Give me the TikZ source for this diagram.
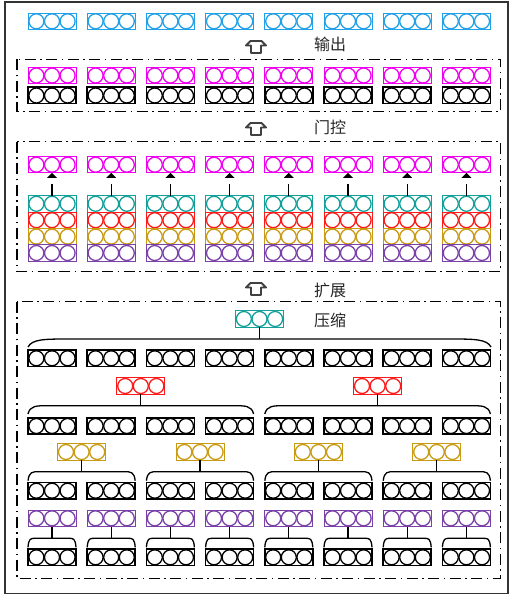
\documentclass[tikz,border=0pt]{standalone}
\usepackage{fontspec}
\newfontfamily\cjk{Noto Sans CJK SC}
\definecolor{cblue}{HTML}{22A0E8}
\definecolor{cmag}{HTML}{F000F0}
\definecolor{cteal}{HTML}{14A09A}
\definecolor{cred}{HTML}{FF1A1A}
\definecolor{cgold}{HTML}{C99A14}
\definecolor{cpurp}{HTML}{7A42A8}
\tikzset{
  cell/.style={draw=#1, line width=0.9pt, minimum width=48pt, minimum height=16.4pt,
    inner sep=0pt, outer sep=0pt,
    path picture={\foreach \dx in {-15.6,0,15.6}{\draw[#1,line width=1.3pt]
      ([xshift=\dx pt]path picture bounding box.center) circle[radius=7.5pt];}}},
  kcell/.style={cell=black, line width=1.6pt},
  dashdot/.style={line width=1.1pt, dash pattern=on 11pt off 4.5pt on 1.5pt off 4.5pt},
  brace/.style={line width=1.3pt, black},
  link/.style={line width=1.3pt, black},
  icon/.style={line width=1.9pt, black!75, line join=round},
  lbl/.style={font=\fontsize{16}{16}\selectfont\cjk, text=black!85, inner sep=0pt},
  frame/.style={line width=1.2pt, black!80}
}
\newcommand\upicon[1]{\draw[icon] (#1) ++(-5.5,-6) -- ++(11,0) -- ++(4.5,4.5) -- ++(-5,0)
  -- ++(0,7.5) -- ++(-10,0) -- ++(0,-7.5) -- ++(-5,0) -- cycle;}
\newcommand\brc[5]{\draw[brace] (#1,#4) .. controls ({#1+0.1*#5},#3) and ({#1+0.4*#5},#3) .. ({#1+#5},#3)
  -- ({#2-#5},#3) .. controls ({#2-0.4*#5},#3) and ({#2-0.1*#5},#3) .. (#2,#4);}
\begin{document}
\begin{tikzpicture}[x=1pt,y=-1pt]
\useasboundingbox (0,0) rectangle (510,596);
\draw[frame] (5,2) rectangle (508,593.5);
% dashed groups
\draw[dashdot] (17,59.3) rectangle (500.7,111.7);
\draw[dashdot] (17,141.7) rectangle (500.7,271.7);
\draw[dashdot] (17,301.7) rectangle (500.7,578.3);
% columns
\foreach \i in {0,...,7}{
  \pgfmathsetmacro\xx{52+59.2*\i}
  \node[cell=cblue] (b\i) at (\xx,21.3) {};
  \node[cell=cmag] (ma\i) at (\xx,75.5) {};
  \node[kcell] (ka\i) at (\xx,95.5) {};
  \node[cell=cmag] (mb\i) at (\xx,164.7) {};
  \node[cell=cteal] (tb\i) at (\xx,203.8) {};
  \node[cell=cred] (rb\i) at (\xx,220.2) {};
  \node[cell=cgold] (gb\i) at (\xx,236.6) {};
  \node[cell=cpurp] (pb\i) at (\xx,253.0) {};
  \draw[link] (tb\i.north) -- ([yshift=-11pt]mb\i.south);
  \fill (mb\i.south) -- ++(5,5) -- ++(-10,0) -- cycle;
  \node[kcell] (k1\i) at (\xx,358.3) {};
  \node[kcell] (k2\i) at (\xx,426) {};
  \node[kcell] (k3\i) at (\xx,490.7) {};
  \node[cell=cpurp] (p\i) at (\xx,518.3) {};
  \node[kcell] (k4\i) at (\xx,557.3) {};
  \coordinate (j3\i) at (\xx,538.3);
  \draw[link] (p\i.south) -- (j3\i);
  \pgfmathsetmacro\xa{\xx-24}\pgfmathsetmacro\xb{\xx+24}
  \brc{\xa}{\xb}{538.3}{547.3}{7}
}
% compression tree
\node[cell=cteal] (tc) at (259.5,319) {};
\coordinate (j0) at (259.5,339);
\draw[link] (tc.south) -- (j0);
\brc{28}{491}{339}{347}{42}
\foreach \g in {0,1}{
  \pgfmathsetmacro\xx{140.8+236.8*\g}
  \node[cell=cred] (r\g) at (\xx,386) {};
  \coordinate (j1\g) at (\xx,405.7);
  \draw[link] (r\g.south) -- (j1\g);
  \pgfmathsetmacro\xa{\xx-112.8}\pgfmathsetmacro\xb{\xx+112.8}
  \brc{\xa}{\xb}{405.7}{414}{20}
}
\foreach \g in {0,...,3}{
  \pgfmathsetmacro\xx{81.6+118.4*\g}
  \node[cell=cgold] (g\g) at (\xx,452) {};
  \coordinate (j2\g) at (\xx,471.7);
  \draw[link] (g\g.south) -- (j2\g);
  \pgfmathsetmacro\xa{\xx-53.6}\pgfmathsetmacro\xb{\xx+53.6}
  \brc{\xa}{\xb}{471.7}{480.7}{11}
}
% icons and labels
\upicon{256,47}
\upicon{256,129}
\upicon{256,289}
\node[lbl] (l1) at (330,44) {输出};
\node[lbl] (l2) at (330,127) {门控};
\node[lbl] (l3) at (330,290) {扩展};
\node[lbl] (l4) at (330,320) {压缩};
\end{tikzpicture}
\end{document}
